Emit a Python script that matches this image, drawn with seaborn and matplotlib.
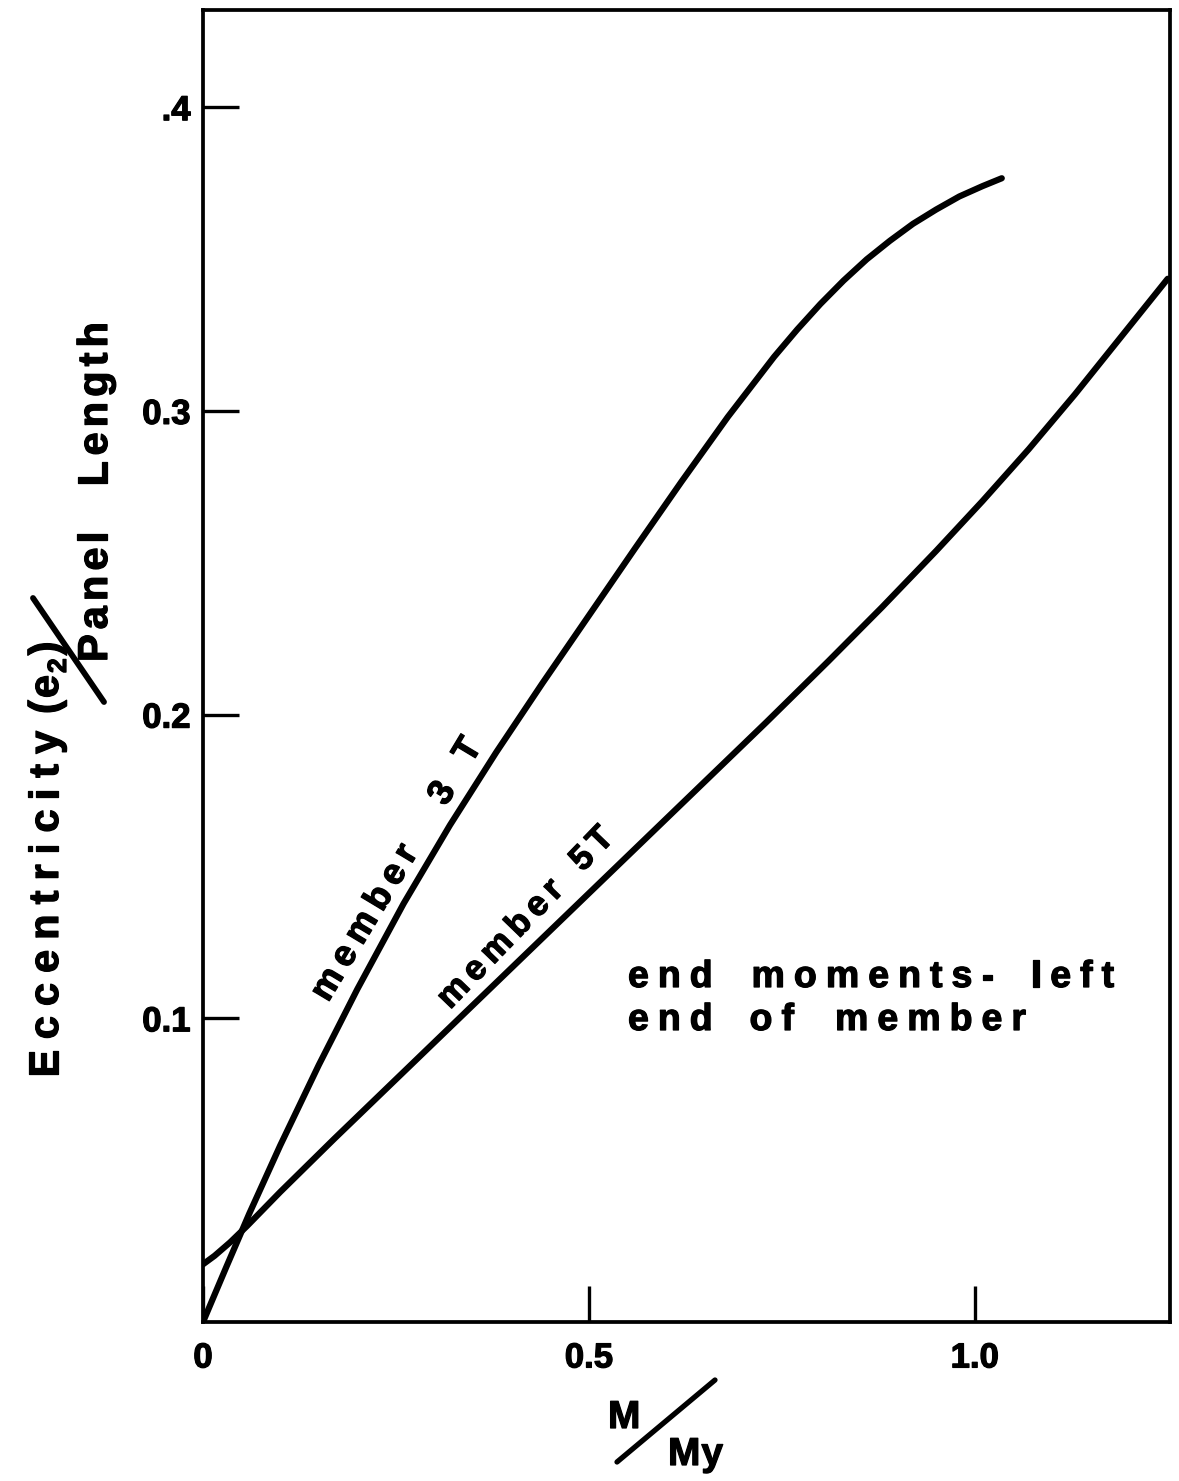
import numpy as np
import pandas as pd
import matplotlib
matplotlib.use("Agg")
import matplotlib.pyplot as plt
import matplotlib.patheffects as pe
from matplotlib.lines import Line2D
from matplotlib.transforms import IdentityTransform
import seaborn as sns

# Curve readings: M/My against eccentricity / panel length
m_3t = [0.0, 0.03, 0.06, 0.10, 0.15, 0.20, 0.26, 0.32, 0.38, 0.44,
        0.50, 0.56, 0.62, 0.68, 0.74, 0.77, 0.80, 0.83, 0.86, 0.89,
        0.92, 0.95, 0.98, 1.01, 1.035]
e_3t = [0.000, 0.018, 0.0357, 0.0581, 0.0846, 0.1096, 0.1378, 0.1636, 0.1876, 0.2104,
        0.2326, 0.2548, 0.2767, 0.298, 0.3178, 0.3268, 0.3352, 0.3429, 0.3499, 0.3560,
        0.3616, 0.3663, 0.3706, 0.3740, 0.3766]

m_5t = [0.0, 0.015, 0.035, 0.057, 0.10, 0.17, 0.25, 0.33, 0.41, 0.49, 0.57,
        0.65, 0.73, 0.81, 0.88, 0.95, 1.01, 1.07, 1.13, 1.19, 1.25]
e_5t = [0.0190, 0.0218, 0.0262, 0.0316, 0.0428, 0.0603, 0.0799, 0.0995, 0.1191, 0.1387, 0.1583,
        0.1779, 0.1975, 0.2175, 0.2354, 0.2539, 0.2703, 0.2874, 0.3055, 0.3245, 0.3435]

x_ticks = [0, 0.5, 1.0]
x_tick_labels = ["0", "0.5", "1.0"]
y_ticks = [0.1, 0.2, 0.3, 0.4]
y_tick_labels = ["0.1", "0.2", "0.3", ".4"]

df = pd.concat([
    pd.DataFrame({"ratio": m_3t, "ecc": e_3t, "member": "3T"}),
    pd.DataFrame({"ratio": m_5t, "ecc": e_5t, "member": "5T"}),
])

sns.set_theme(style="ticks")
plt.rcParams["font.family"] = ["Liberation Sans", "DejaVu Sans"]
plt.rcParams["font.weight"] = "bold"

W, H, DPI = 1179, 1481, 100
fig = plt.figure(figsize=(W / DPI, H / DPI), dpi=DPI, facecolor="white")
ax = fig.add_axes([203 / W, (H - 1322) / H, (1170 - 203) / W, (1322 - 10) / H])

sns.lineplot(data=df, x="ratio", y="ecc", hue="member",
             palette={"3T": "black", "5T": "black"}, estimator=None,
             sort=False, linewidth=4.5, legend=False, ax=ax)
for ln in ax.get_lines():
    ln.set_solid_joinstyle("round")
    ln.set_solid_capstyle("round")

heavy = [pe.withStroke(linewidth=0.9, foreground="black")]

ax.set_xlim(0, 1.253)
ax.set_ylim(0, 0.432)
ax.set_xticks(x_ticks)
ax.set_xticklabels(x_tick_labels)
ax.set_yticks(y_ticks)
ax.set_yticklabels(y_tick_labels)
ax.set_xlabel("")
ax.set_ylabel("")
ax.tick_params(axis="both", direction="in", length=26, width=2.4,
               color="black", labelsize=25, labelcolor="black")
ax.tick_params(axis="x", pad=14)
ax.tick_params(axis="y", pad=9)
for lab in ax.get_xticklabels() + ax.get_yticklabels():
    lab.set_fontweight("bold")
    lab.set_path_effects(heavy)
for sp in ax.spines.values():
    sp.set_visible(True)
    sp.set_linewidth(2.7)
    sp.set_color("black")
ax.set_facecolor("white")

renderer = fig.canvas.get_renderer()


def tracked(x, y, tokens, size, gap, rotation=0.0):
    """Letter-spaced bold text; (x, y) is the baseline start in pixels from the top-left.
    tokens: strings are drawn glyph by glyph, numbers add extra advance in pixels,
    tuples (text, size, shift) draw smaller shifted glyphs (subscripts)."""
    a = np.radians(rotation)
    ux, uy = np.cos(a), np.sin(a)
    px, py = uy, -ux  # "downward" direction in the text frame
    pos = 0.0
    for tok in tokens:
        if isinstance(tok, (int, float)):
            pos += tok
            continue
        if isinstance(tok, tuple):
            txt, sz, shift = tok
        else:
            txt, sz, shift = tok, size, 0.0
        for ch in txt:
            bx = x + pos * ux + shift * px
            by = (H - y) + pos * uy + shift * py
            fig.text(bx, by, ch, fontsize=sz, fontweight="bold", rotation=rotation,
                     rotation_mode="anchor", ha="left", va="baseline",
                     transform=IdentityTransform(), color="black",
                     path_effects=heavy)
            probe = fig.text(0, 0, ch, fontsize=sz, fontweight="bold",
                             transform=IdentityTransform())
            w = probe.get_window_extent(renderer).width
            probe.remove()
            pos += w + gap


# y-axis caption: Eccentricity (e2) / Panel Length
tracked(58, 1077, ["Eccentricity"], 30, 10, rotation=90)
tracked(58, 714, ["(e", ("2", 19, 8), 1, ")"], 30, 2, rotation=90)
tracked(107, 662, ["Panel", 40, "Length"], 30, 5, rotation=90)
fig.add_artist(Line2D([33 / W, 104 / W], [1 - 598 / H, 1 - 702 / H],
                      transform=fig.transFigure, color="black", linewidth=4.2,
                      solid_capstyle="round"))

# x-axis caption: M / My
tracked(608, 1428, ["M"], 28, 0)
tracked(668, 1465, ["M", "y"], 28, 1)
fig.add_artist(Line2D([617 / W, 715 / W], [1 - 1462 / H, 1 - 1380 / H],
                      transform=fig.transFigure, color="black", linewidth=3.8,
                      solid_capstyle="round"))

# curve labels
tracked(328, 1003, ["member", 46, "3", 22, "T"], 26, 7, rotation=59)
tracked(450, 1010, ["member", 20, "5T"], 25, 6, rotation=46)

# note
tracked(628, 987, ["end", 30, "moments-", 28, "left"], 27, 9)
tracked(628, 1030, ["end", 28, "of", 32, "member"], 27, 9)

fig.savefig("out.png", dpi=DPI, facecolor="white")
